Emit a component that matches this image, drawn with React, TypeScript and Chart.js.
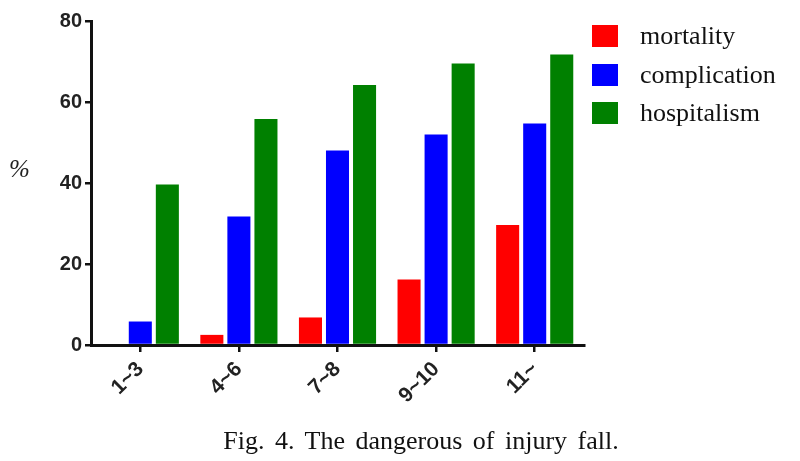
import React, { useEffect, useRef } from "react";
import { Chart, registerables } from "chart.js";

Chart.register(...registerables);

const categories = ["1~3", "4~6", "7~8", "9~10", "11~"];
const mortality = [0, 2.5, 6.8, 16.2, 29.6];
const complication = [5.8, 31.7, 48, 52, 54.7];
const hospitalism = [39.6, 55.8, 64.2, 69.5, 71.7];
const seriesNames = ["mortality", "complication", "hospitalism"];
const seriesColors = ["#ff0000", "#0000ff", "#008000"];
const yTicks = [0, 20, 40, 60, 80];
const caption = "Fig. 4. The dangerous of injury fall.";
const yTitle = "%";

export default function App() {
  const canvasRef = useRef<HTMLCanvasElement | null>(null);

  useEffect(() => {
    const canvas = canvasRef.current;
    if (!canvas) return;
    const values = [mortality, complication, hospitalism];
    const yFont = { family: "'Liberation Sans', Arial, sans-serif", size: 20, weight: "bold" as const };
    const xFont = { family: "'Liberation Sans', Arial, sans-serif", size: 21, weight: "bold" as const };
    const chart = new Chart(canvas, {
      type: "bar",
      data: {
        labels: categories,
        datasets: seriesNames.map((name, i) => ({
          label: name,
          data: values[i],
          backgroundColor: seriesColors[i],
          borderWidth: 0,
          categoryPercentage: 0.823,
          barPercentage: 0.852,
        })),
      },
      options: {
        animation: false,
        responsive: true,
        maintainAspectRatio: false,
        layout: { padding: { top: 21, right: 216, bottom: 0, left: 0 } },
        plugins: {
          legend: { display: false },
          tooltip: { enabled: false },
        },
        scales: {
          x: {
            offset: true,
            grid: {
              display: true,
              offset: false,
              drawOnChartArea: false,
              drawTicks: true,
              tickLength: 7,
              color: "#111",
              lineWidth: 2.5,
            },
            border: { display: true, color: "#111", width: 3 },
            ticks: {
              color: "#222",
              font: xFont,
              minRotation: 45,
              maxRotation: 45,
              padding: 5,
            },
            afterFit: (scale: any) => {
              scale.height = 116;
            },
          },
          y: {
            min: 0,
            max: 80,
            afterBuildTicks: (scale: any) => {
              scale.ticks = yTicks.map((v) => ({ value: v }));
            },
            grid: {
              display: true,
              drawOnChartArea: false,
              drawTicks: true,
              tickLength: 6,
              color: "#111",
              lineWidth: 2.5,
            },
            border: { display: true, color: "#111", width: 3 },
            ticks: {
              color: "#222",
              font: yFont,
              padding: 3,
            },
            afterFit: (scale: any) => {
              scale.width = 91;
            },
          },
        },
      },
    });
    return () => chart.destroy();
  }, []);

  const serif = "'Liberation Serif', 'Times New Roman', serif";

  return (
    <div
      style={{
        position: "fixed",
        left: 0,
        top: 0,
        width: 800,
        height: 461,
        background: "#fff",
        overflow: "hidden",
      }}
    >
      <div style={{ position: "absolute", left: 0, top: 0, width: 800, height: 461 }}>
        <canvas ref={canvasRef} />
      </div>
      <div
        style={{
          position: "absolute",
          left: 9,
          top: 155,
          fontFamily: serif,
          fontStyle: "italic",
          fontSize: 25,
          color: "#222",
          lineHeight: "28px",
        }}
      >
        {yTitle}
      </div>
      {seriesNames.map((name, i) => (
        <div
          key={name}
          style={{
            position: "absolute",
            left: 592,
            top: 24 + i * 38.5,
            height: 24,
            display: "flex",
            alignItems: "center",
          }}
        >
          <div style={{ width: 26, height: 22, background: seriesColors[i] }} />
          <span
            style={{
              marginLeft: 22,
              fontFamily: serif,
              fontSize: 26,
              color: "#111",
              lineHeight: "24px",
              whiteSpace: "nowrap",
            }}
          >
            {name}
          </span>
        </div>
      ))}
      <div
        style={{
          position: "absolute",
          left: 0,
          width: 842,
          top: 426,
          textAlign: "center",
          fontFamily: serif,
          fontSize: 26,
          color: "#111",
          wordSpacing: 4,
          lineHeight: "30px",
          whiteSpace: "nowrap",
        }}
      >
        {caption}
      </div>
    </div>
  );
}
